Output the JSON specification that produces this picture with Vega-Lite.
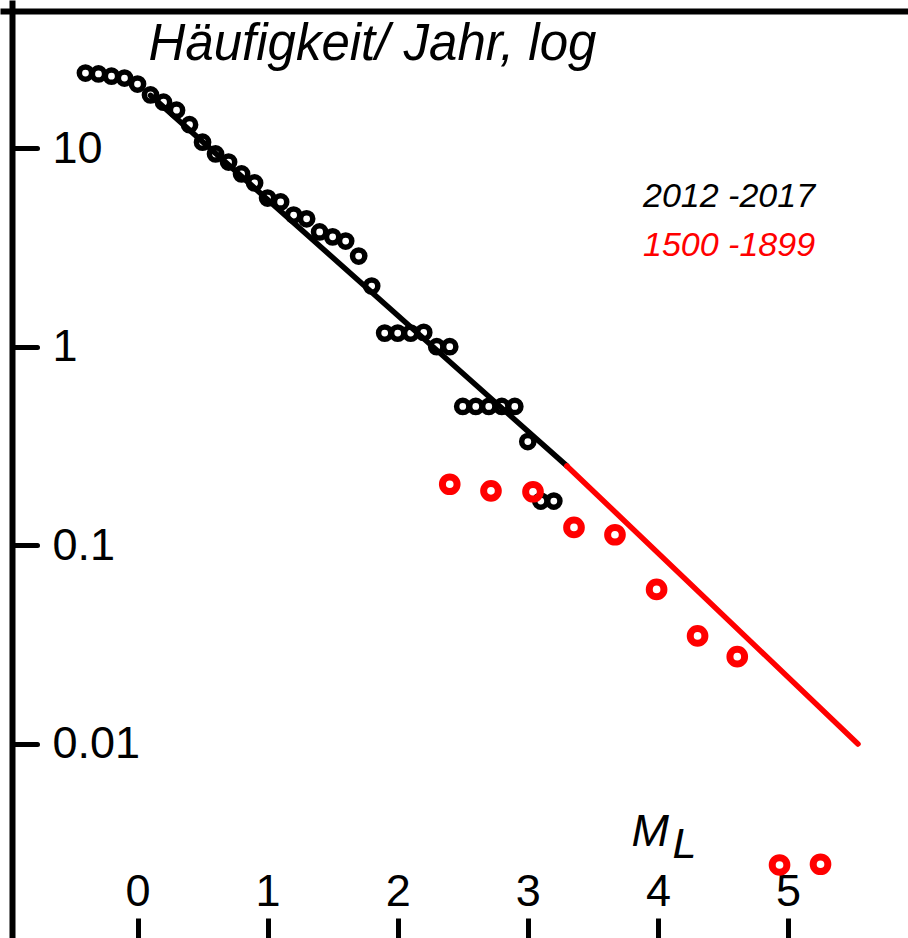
{
  "$schema": "https://vega.github.io/schema/vega-lite/v6.json",
  "width": 908,
  "height": 938,
  "autosize": {"type": "none"},
  "padding": 0,
  "background": "white",
  "config": {
    "view": {"stroke": null},
    "font": "Liberation Sans",
    "axisLeft": {
      "offset": -12,
      "grid": false,
      "domainColor": "#000000", "domainWidth": 6, "domainCap": "butt",
      "tickColor": "#000000", "tickWidth": 5, "tickSize": -25, "tickCap": "round",
      "labelFontSize": 45, "labelColor": "#000000", "labelAlign": "left", "labelBaseline": "middle",
      "labelPadding": -15, "labelFlush": false, "labelOverlap": false,
      "titleFontStyle": "italic", "titleFontWeight": "normal",
      "titleFontSize": 51, "titleColor": "#000000", "titleAngle": 0, "titleAlign": "left",
      "titleBaseline": "alphabetic", "titleX": 136, "titleY": 59
    },
    "legend": {
      "orient": "none",
      "legendX": 609,
      "legendY": 180,
      "padding": 0,
      "offset": 0,
      "direction": "vertical",
      "symbolSize": 0,
      "symbolStrokeWidth": 0,
      "symbolOpacity": 0,
      "labelOffset": 0,
      "labelFont": "Liberation Sans",
      "labelFontStyle": "italic",
      "labelFontSize": 34,
      "labelLimit": 400,
      "rowPadding": 15
    }
  },
  "datasets": {
    "points": [
      {"M": -0.4, "N": 23.85, "period": "2012 -2017"},
      {"M": -0.3, "N": 23.6, "period": "2012 -2017"},
      {"M": -0.2, "N": 23.0, "period": "2012 -2017"},
      {"M": -0.1, "N": 22.5, "period": "2012 -2017"},
      {"M": 0.0, "N": 21.0, "period": "2012 -2017"},
      {"M": 0.1, "N": 18.5, "period": "2012 -2017"},
      {"M": 0.2, "N": 17.0, "period": "2012 -2017"},
      {"M": 0.3, "N": 15.5, "period": "2012 -2017"},
      {"M": 0.4, "N": 13.1, "period": "2012 -2017"},
      {"M": 0.5, "N": 10.7, "period": "2012 -2017"},
      {"M": 0.6, "N": 9.33, "period": "2012 -2017"},
      {"M": 0.7, "N": 8.5, "period": "2012 -2017"},
      {"M": 0.8, "N": 7.4, "period": "2012 -2017"},
      {"M": 0.9, "N": 6.67, "period": "2012 -2017"},
      {"M": 1.0, "N": 5.6, "period": "2012 -2017"},
      {"M": 1.1, "N": 5.35, "period": "2012 -2017"},
      {"M": 1.2, "N": 4.6, "period": "2012 -2017"},
      {"M": 1.3, "N": 4.4, "period": "2012 -2017"},
      {"M": 1.4, "N": 3.78, "period": "2012 -2017"},
      {"M": 1.5, "N": 3.57, "period": "2012 -2017"},
      {"M": 1.6, "N": 3.4, "period": "2012 -2017"},
      {"M": 1.7, "N": 2.86, "period": "2012 -2017"},
      {"M": 1.8, "N": 2.02, "period": "2012 -2017"},
      {"M": 1.9, "N": 1.17, "period": "2012 -2017"},
      {"M": 2.0, "N": 1.17, "period": "2012 -2017"},
      {"M": 2.1, "N": 1.17, "period": "2012 -2017"},
      {"M": 2.2, "N": 1.18, "period": "2012 -2017"},
      {"M": 2.3, "N": 1.0, "period": "2012 -2017"},
      {"M": 2.4, "N": 1.0, "period": "2012 -2017"},
      {"M": 2.5, "N": 0.5, "period": "2012 -2017"},
      {"M": 2.6, "N": 0.5, "period": "2012 -2017"},
      {"M": 2.7, "N": 0.5, "period": "2012 -2017"},
      {"M": 2.8, "N": 0.5, "period": "2012 -2017"},
      {"M": 2.9, "N": 0.5, "period": "2012 -2017"},
      {"M": 3.0, "N": 0.333, "period": "2012 -2017"},
      {"M": 3.1, "N": 0.167, "period": "2012 -2017"},
      {"M": 3.2, "N": 0.167, "period": "2012 -2017"},
      {"M": 2.4, "N": 0.203, "period": "1500 -1899"},
      {"M": 2.717, "N": 0.188, "period": "1500 -1899"},
      {"M": 3.04, "N": 0.186, "period": "1500 -1899"},
      {"M": 3.355, "N": 0.123, "period": "1500 -1899"},
      {"M": 3.67, "N": 0.113, "period": "1500 -1899"},
      {"M": 3.99, "N": 0.06, "period": "1500 -1899"},
      {"M": 4.305, "N": 0.035, "period": "1500 -1899"},
      {"M": 4.61, "N": 0.0275, "period": "1500 -1899"},
      {"M": 4.935, "N": 0.00246, "period": "1500 -1899"},
      {"M": 5.25, "N": 0.00248, "period": "1500 -1899"}
    ],
    "fit": [
      {"M": 0.1, "N": 18.4, "period": "2012 -2017"},
      {"M": 3.3, "N": 0.251, "period": "2012 -2017"},
      {"M": 3.3, "N": 0.251, "period": "1500 -1899"},
      {"M": 5.538, "N": 0.01, "period": "1500 -1899"}
    ]
  },
  "layer": [
    {
      "data": {"name": "fit"},
      "mark": {"type": "line", "strokeWidth": 5.5, "strokeCap": "round"},
      "encoding": {
        "x": {
          "field": "M", "type": "quantitative",
          "scale": {"domain": [-1.0569, 5.9224], "nice": false, "zero": false},
          "axis": {
            "orient": "bottom", "offset": 0, "values": [0, 1, 2, 3, 4, 5], "format": "d",
            "domain": false, "grid": false,
            "ticks": true, "tickSize": -20, "tickWidth": 5, "tickColor": "#000000", "tickCap": "butt",
            "labelFontSize": 45, "labelColor": "#000000", "labelBaseline": "alphabetic", "labelAlign": "center",
            "labelPadding": -13, "labelFlush": false, "labelOverlap": false,
            "title": "M", "titleFontStyle": "italic", "titleFontWeight": "normal", "titleFontSize": 45,
            "titleColor": "#000000", "titleX": 631, "titleY": -93, "titleAlign": "left",
            "titleBaseline": "alphabetic", "titleAngle": 0
          }
        },
        "y": {
          "field": "N", "type": "quantitative",
          "scale": {"type": "log", "domain": [0.001055, 55.6], "nice": false},
          "axis": {"orient": "left", "title": "Häufigkeit/ Jahr, log", "values": [0.01, 0.1, 1, 10], "format": "~g"}
        },
        "color": {
          "field": "period", "type": "nominal", "title": null,
          "scale": {"domain": ["2012 -2017", "1500 -1899"], "range": ["#000000", "#ff0000"]},
          "legend": {
            "encode": {
              "labels": {
                "update": {
                  "fill": {"signal": "datum.label === '1500 -1899' ? '#ff0000' : '#000000'"}
                }
              }
            }
          }
        }
      }
    },
    {
      "data": {"name": "points"},
      "transform": [{"filter": "datum.period === '2012 -2017'"}],
      "mark": {"type": "point", "shape": "circle", "filled": false, "size": 150, "strokeWidth": 5.5, "opacity": 1},
      "encoding": {
        "x": {
          "field": "M", "type": "quantitative",
          "scale": {"domain": [-1.0569, 5.9224], "nice": false, "zero": false},
          "axis": {
            "orient": "top", "offset": -11, "domain": true, "domainWidth": 6, "domainColor": "#000000",
            "domainCap": "butt", "ticks": false, "labels": false, "grid": false,
            "title": "L", "titleFontStyle": "italic", "titleFontWeight": "normal", "titleFontSize": 43,
            "titleColor": "#000000", "titleX": 672, "titleY": 846, "titleAlign": "left",
            "titleBaseline": "alphabetic", "titleAngle": 0
          }
        },
        "y": {
          "field": "N", "type": "quantitative",
          "scale": {"type": "log", "domain": [0.001055, 55.6], "nice": false},
          "axis": {"orient": "left", "title": "Häufigkeit/ Jahr, log", "values": [0.01, 0.1, 1, 10], "format": "~g"}
        },
        "color": {
          "field": "period", "type": "nominal", "title": null,
          "scale": {"domain": ["2012 -2017", "1500 -1899"], "range": ["#000000", "#ff0000"]}
        }
      }
    },
    {
      "data": {"name": "points"},
      "transform": [{"filter": "datum.period === '1500 -1899'"}],
      "mark": {"type": "point", "shape": "circle", "filled": false, "size": 215, "strokeWidth": 7, "opacity": 1},
      "encoding": {
        "x": {
          "field": "M", "type": "quantitative",
          "scale": {"domain": [-1.0569, 5.9224], "nice": false, "zero": false},
          "axis": null
        },
        "y": {
          "field": "N", "type": "quantitative",
          "scale": {"type": "log", "domain": [0.001055, 55.6], "nice": false},
          "axis": {"orient": "left", "title": "Häufigkeit/ Jahr, log", "values": [0.01, 0.1, 1, 10], "format": "~g"}
        },
        "color": {
          "field": "period", "type": "nominal", "title": null,
          "scale": {"domain": ["2012 -2017", "1500 -1899"], "range": ["#000000", "#ff0000"]}
        }
      }
    }
  ],
  "resolve": {"axis": {"x": "independent"}}
}
